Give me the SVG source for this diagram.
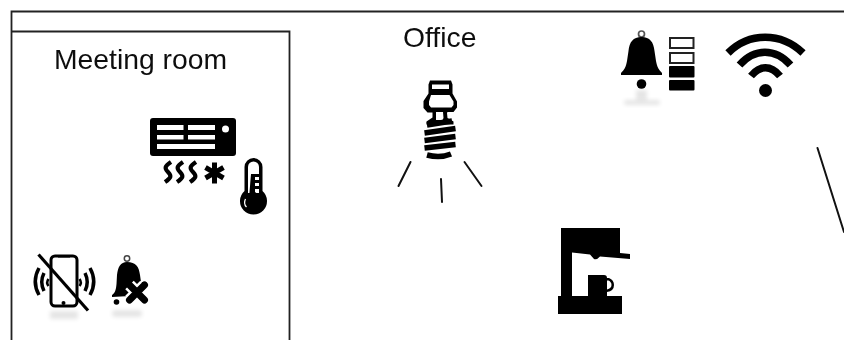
<svg xmlns="http://www.w3.org/2000/svg" width="844" height="340" viewBox="0 0 844 340">
<defs>
<filter id="soft" x="-10%" y="-10%" width="120%" height="120%"><feGaussianBlur stdDeviation="0.5"/></filter>
<filter id="haze" x="-30%" y="-60%" width="160%" height="220%"><feGaussianBlur stdDeviation="2"/></filter>
</defs>
<style>
text{font-family:"Liberation Sans",Arial,sans-serif;font-size:28.300px;fill:#111;filter:url(#soft)}
.frame{fill:none;stroke:#222;stroke-width:1.800}
.ln{fill:none;stroke:#111;stroke-width:2;stroke-linecap:round}
.k{fill:#000}
.w{fill:#fff}
.s{fill:none;stroke:#000;stroke-linecap:butt}
.r{fill:#000;opacity:.1;filter:url(#haze)}
.icon{filter:url(#soft)}
</style>
<rect width="844" height="340" fill="#fff"/>
<g id="office">
<path class="frame" d="M844 11.500H11.500V340"/>
<text x="403" y="47">Office</text>
</g>
<g id="meeting-room">
<path class="frame" d="M11.500 31.500H289.500V340"/>
<text x="54" y="69">Meeting room</text>
</g>
<g id="air-conditioner" class="icon">
<rect class="k" x="150" y="118" width="86" height="38" rx="3"/>
<g class="w">
<rect x="157" y="125" width="26.500" height="5"/><rect x="188" y="125" width="27" height="5"/>
<rect x="157" y="135" width="26.500" height="4.500"/><rect x="188" y="135" width="27" height="4.500"/>
<rect x="157" y="144" width="58" height="5"/>
<circle cx="225.500" cy="129" r="3.500"/>
</g>
<g class="s" stroke-width="4.200">
<path d="M171 162c-6 4-7 6-3 10s3 6-3 10"/>
<path d="M183 162c-6 4-7 6-3 10s3 6-3 10"/>
<path d="M196 162c-6 4-7 6-3 10s3 6-3 10"/>
<path d="M214.500 162.500v21M205.500 167.500l18 10.500M205.500 178l18-10.500" stroke-width="5"/>
</g>
</g>
<g id="thermometer" class="icon">
<path class="k" d="M244.500 167a9 9 0 0 1 18 0v24a13.500 13.500 0 1 1-18 0z"/>
<path class="w" d="M248 167a5.500 5.500 0 0 1 11 0v26h-11z"/>
<path class="k" d="M251 174h8v3h-4v3h4v3h-4v3h4v3h-4v3l4 3v3h-10z"/>
<path d="M245.500 199c-1.500 3-1 6 1 8" fill="none" stroke="#fff" stroke-width="1.300"/>
</g>
<g id="silent-phone" class="icon">
<rect x="51" y="256" width="26" height="50" rx="4" fill="#fff" stroke="#000" stroke-width="3"/>
<rect class="k" x="58" y="255" width="12" height="2.500"/>
<circle class="k" cx="63.500" cy="303" r="2"/>
<g class="s" stroke-width="3.500">
<path d="M39 268c-5 9-5 18 0 27M44 273c-3 6-3 12 0 18"/>
<path d="M90 268c5 9 5 18 0 27M85 273c3 6 3 12 0 18"/>
<path d="M48.500 279c-1.500 2-1.500 5 0 7M79.500 279c1.500 2 1.500 5 0 7" stroke-width="2.500"/>
<path d="M38.500 254.500L88 310.500" stroke-width="3.200"/>
</g>
<rect class="r" x="50" y="311" width="28" height="8"/>
</g>
<g id="muted-bell" class="icon">
<circle cx="127" cy="258.500" r="2.700" fill="none" stroke="#444" stroke-width="1.500"/>
<path class="k" d="M127 262c9 0 12 5 13 13l1 7 6 0-17 14-18 1v-2c3-2 4-5 4.500-11l.5-9c1-8 3.500-13 10-13z"/>
<circle class="k" cx="116.500" cy="302" r="2.800"/>
<path d="M129.500 285l15 15M144.500 285l-15 15" stroke="#fff" stroke-width="12" fill="none"/>
<path d="M129.500 285l15 15M144.500 285l-15 15" stroke="#000" stroke-width="7" stroke-linecap="round" fill="none"/>
<rect class="r" x="112" y="310" width="30" height="7" rx="3"/>
</g>
<g id="light-bulb">
<g class="icon">
<path class="k" d="M430 80.500h21l1.500 4v9l4.500 8v6l-3.500 4.500h-6l-.5 1 .5 5 6 3.500v3h-27v-3l6-4v-5h-5l-4-4.500v-7l5-7.500v-9z"/>
<path class="w" d="M432 84.500h17v4.500h-17zM431 95h18.500l4 6.500v3.500l-2 2.500h-20.500l-2-2.500v-3.500zM436 112h7l.5 6-1 2h-6.500z"/>
<g class="s" stroke-width="5.500" stroke-linecap="round">
<path d="M427 125L452 121"/>
<path d="M424.500 133L455.500 128.500"/>
<path d="M424.500 140.500L455.500 136.500"/>
<path d="M424.500 148L455.500 144.500"/>
<path d="M427 155Q440 158.500 451 154"/>
</g>
</g>
<g class="ln">
<path d="M410.500 162L398.500 186"/>
<path d="M441 179L442 202"/>
<path d="M464.500 162L481.500 186"/>
</g>
</g>
<g id="alarm-bell" class="icon">
<circle cx="641.500" cy="34" r="3" fill="none" stroke="#555" stroke-width="1.700"/>
<path class="k" d="M641.500 37c8.500 0 12 5 13 14l1.500 10c1 6 3 9 6 12v2h-41v-2c3-3 5-6 6-12l1.500-10c1-9 4.500-14 13-14z"/>
<circle class="k" cx="641.500" cy="84" r="4.800"/>
<rect class="r" x="624" y="100" width="36" height="5" rx="2"/>
<rect class="r" x="636" y="90" width="11" height="10"/>
</g>
<g id="battery-level" class="icon">
<rect x="670" y="38" width="23.500" height="10" fill="#fff" stroke="#222" stroke-width="2"/>
<rect x="670" y="53" width="23.500" height="10" fill="#fff" stroke="#222" stroke-width="2"/>
<rect class="k" x="669" y="66" width="25.500" height="11.500" rx="1"/>
<rect class="k" x="669" y="80" width="25.500" height="10.500" rx="1"/>
</g>
<g id="wifi" class="icon">
<g class="s" stroke-width="7.500">
<path d="M728 53c21-21 53-21 75 0"/>
<path d="M739.500 65c15-17 36-17 51 0"/>
<path d="M751 76c9-11 20-11 29 0"/>
</g>
<circle class="k" cx="765.500" cy="90.500" r="6.500"/>
</g>
<g id="coffee-machine" class="icon">
<path class="k" d="M561 228H620V253L630 254V259L600 256.500Q597 260 594 259L590 254.500L572 252.500V297H561Z"/>
<rect class="k" x="558" y="296" width="64" height="18"/>
<path class="k" d="M588 275H604Q607 275 607 278H609Q614 280 614 285Q614 291 607 292V297H588Z"/>
<path class="w" d="M607 280.500H608.500Q611.500 282 611.500 285Q611.500 288 607 289.500Z"/>
</g>
<g id="connectors">
<path class="ln" stroke-width="1.500" d="M817.500 148L844 232"/>
</g>
</svg>
